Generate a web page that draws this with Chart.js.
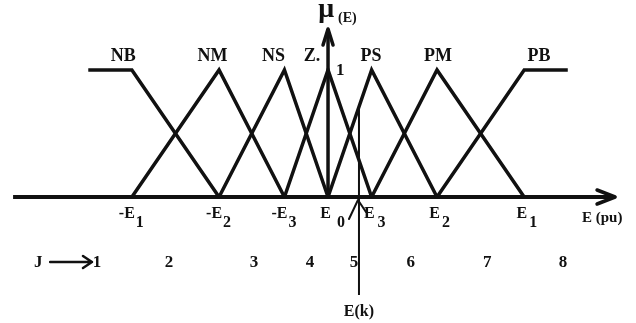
<!DOCTYPE html>
<html>
<head>
<meta charset="utf-8">
<script src="https://cdn.jsdelivr.net/npm/chart.js@4"></script>
<style>
  html, body { margin: 0; background: #fff; }
  #box { width: 636px; height: 323px; }
</style>
</head>
<body>
<div id="box"><canvas id="fuzzyChart"></canvas></div>
<script>
// error breakpoints (pu)
const E0 = 0, E3 = 0.2, E2 = 0.5, E1 = 0.9;

// fuzzy sets: name, corner points and where the name sits
const setNames = ['NB', 'NM', 'NS', 'Z.', 'PS', 'PM', 'PB'];
const setX = [
  [-1.1, -E1, -E2],
  [-E1, -E2, -E3],
  [-E2, -E3, E0],
  [-E3, E0, E3],
  [E0, E3, E2],
  [E3, E2, E1],
  [E2, E1, 1.1]
];
const setY = [
  [1, 1, 0],
  [0, 1, 0],
  [0, 1, 0],
  [0, 1, 0],
  [0, 1, 0],
  [0, 1, 0],
  [0, 1, 1]
];
const setLabelX = [-0.94, -0.53, -0.25, -0.073, 0.197, 0.505, 0.968];

// tick labels on the E axis
const tickX = [-E1, -E2, -E3, E0, E3, E2, E1];
const tickMain = ['-E', '-E', '-E', 'E', 'E', 'E', 'E'];
const tickSub = ['1', '2', '3', '0', '3', '2', '1'];
const tickSubGap = [1, 1, 1, 6, 3, 2, 2];

// J zones under the axis
const zoneNames = ['1', '2', '3', '4', '5', '6', '7', '8'];
const zoneX = [-1.06, -0.73, -0.34, -0.083, 0.119, 0.38, 0.731, 1.078];

// current error sample E(k)
const Ek = 0.142;
const EkTop = Ek / E3;      // membership of PS at E(k)
const EkBottom = -0.772;

// axis extents
const axisLeft = -1.445, axisRight = 1.317, axisTop = 1.323;

const black = '#111';
const serif = '"Liberation Serif", "DejaVu Serif", serif';

const datasets = setNames.map((name, i) => ({
  label: name,
  data: setX[i].map((x, j) => ({ x: x, y: setY[i][j] })),
  borderColor: black,
  borderWidth: 3.5,
  showLine: true,
  pointRadius: 0,
  borderJoinStyle: 'miter'
}));

datasets.push({
  label: 'E axis',
  data: [{ x: axisLeft, y: 0 }, { x: axisRight, y: 0 }],
  borderColor: black, borderWidth: 4, showLine: true, pointRadius: 0
});
datasets.push({
  label: 'mu axis',
  data: [{ x: 0, y: 0 }, { x: 0, y: axisTop }],
  borderColor: black, borderWidth: 3.5, showLine: true, pointRadius: 0
});
datasets.push({
  label: 'E(k)',
  data: [{ x: Ek, y: EkTop }, { x: Ek, y: EkBottom }],
  borderColor: black, borderWidth: 2, showLine: true, pointRadius: 0
});

// arrows and all the lettering
const annotate = {
  id: 'annotate',
  afterDatasetsDraw(chart) {
    const ctx = chart.ctx;
    const sx = chart.scales.x, sy = chart.scales.y;
    const px = v => sx.getPixelForValue(v);
    const py = v => sy.getPixelForValue(v);

    ctx.save();
    ctx.strokeStyle = black;
    ctx.fillStyle = black;
    ctx.lineCap = 'round';
    ctx.lineJoin = 'round';

    // arrow on the E axis
    let tx = px(axisRight), ty = py(0);
    ctx.lineWidth = 3.5;
    ctx.beginPath();
    ctx.moveTo(tx - 18, ty - 7);
    ctx.lineTo(tx, ty);
    ctx.lineTo(tx - 18, ty + 7);
    ctx.stroke();

    // arrow on the mu axis
    tx = px(0); ty = py(axisTop);
    ctx.beginPath();
    ctx.moveTo(tx - 5, ty + 16);
    ctx.lineTo(tx, ty);
    ctx.lineTo(tx + 5, ty + 16);
    ctx.stroke();

    // small hat where E(k) crosses the axis
    const kx = px(Ek), ky = py(0);
    ctx.lineWidth = 2;
    ctx.beginPath();
    ctx.moveTo(kx - 10, ky + 22);
    ctx.lineTo(kx - 1, ky + 3);
    ctx.lineTo(kx + 7, ky + 15);
    ctx.stroke();

    // set names
    ctx.textAlign = 'center';
    ctx.textBaseline = 'alphabetic';
    ctx.font = 'bold 18px ' + serif;
    setNames.forEach((name, i) => ctx.fillText(name, px(setLabelX[i]), py(1.07)));

    // peak value of the membership axis
    ctx.font = 'bold 17px ' + serif;
    ctx.textAlign = 'left';
    ctx.fillText('1', px(0) + 8, py(1) + 5);

    // tick labels with subscripts
    tickX.forEach((x, i) => {
      const base = px(x);
      ctx.font = 'bold 16px ' + serif;
      ctx.textAlign = 'right';
      ctx.fillText(tickMain[i], base + 3, py(-0.165));
      ctx.font = 'bold 16px ' + serif;
      ctx.textAlign = 'left';
      ctx.fillText(tickSub[i], base + 3 + tickSubGap[i], py(-0.236));
    });

    // axis titles
    ctx.font = 'bold 15px ' + serif;
    ctx.textAlign = 'left';
    ctx.fillText('E (pu)', px(1.165), py(-0.197));
    ctx.font = 'bold 28px ' + serif;
    ctx.fillText('\u03BC', px(-0.045), py(1.42));
    ctx.font = 'bold 14px ' + serif;
    ctx.fillText('(E)', px(0.046), py(1.378));
    ctx.font = 'bold 16px ' + serif;
    ctx.textAlign = 'center';
    ctx.fillText('E(k)', px(Ek), py(-0.937));

    // J zone row
    const zy = py(-0.551);
    ctx.font = 'bold 17px ' + serif;
    ctx.fillText('J', px(-1.33), zy);
    zoneNames.forEach((z, i) => ctx.fillText(z, px(zoneX[i]), zy));
    const ax0 = px(-1.275), ax1 = px(-1.083), ay = py(-0.512);
    ctx.lineWidth = 2.5;
    ctx.beginPath();
    ctx.moveTo(ax0, ay);
    ctx.lineTo(ax1, ay);
    ctx.moveTo(ax1 - 9, ay - 6);
    ctx.lineTo(ax1, ay);
    ctx.lineTo(ax1 - 9, ay + 6);
    ctx.stroke();

    ctx.restore();
  }
};

new Chart(document.getElementById('fuzzyChart').getContext('2d'), {
  type: 'scatter',
  data: { datasets: datasets },
  options: {
    responsive: true,
    maintainAspectRatio: false,
    animation: false,
    layout: { padding: 0 },
    scales: {
      x: { type: 'linear', display: false, min: -1.505, max: 1.413 },
      y: { type: 'linear', display: false, min: -0.992, max: 1.551 }
    },
    plugins: {
      legend: { display: false },
      tooltip: { enabled: false }
    }
  },
  plugins: [annotate]
});
</script>
</body>
</html>
